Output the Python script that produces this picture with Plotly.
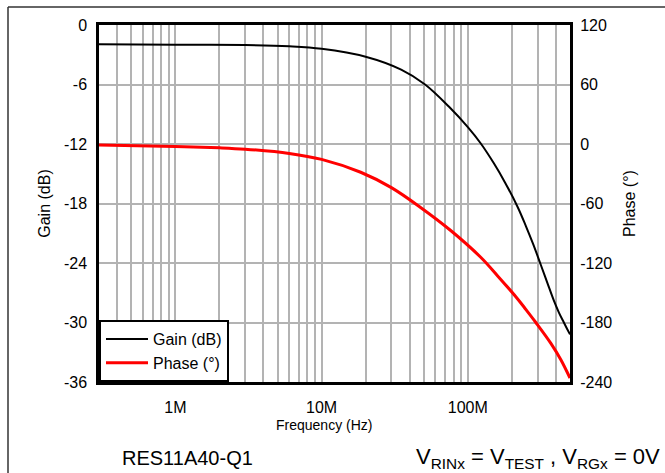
import plotly.graph_objects as go

# Data
gain_freq = [3e5, 1e6, 3e6, 6e6, 1e7, 2e7, 3.5e7, 5.1e7, 7.5e7, 1e8, 1.22e8, 1.5e8, 1.8e8,
             2.2e8, 2.5e8, 2.8e8, 3.16e8, 3.5e8, 3.88e8, 4.2e8, 4.54e8, 4.8e8, 5e8]
gain_db = [-1.95, -2.0, -2.02, -2.15, -2.4, -3.2, -4.5, -6.0, -8.3, -10.3, -11.9, -13.9, -15.9,
           -18.4, -20.3, -22.1, -24.2, -26.0, -27.8, -29.0, -30.0, -30.7, -31.2]

phase_freq = [3e5, 1e6, 2e6, 3e6, 6e6, 1e7, 1.85e7, 3e7, 4.75e7, 7.6e7, 1.22e8, 1.6e8,
              2.13e8, 2.5e8, 2.92e8, 3.7e8, 4.33e8, 5e8]
phase_deg = [-1.0, -2.4, -3.8, -5.2, -9.5, -15.5, -28.5, -44, -64, -87, -114, -133,
             -154, -167, -180, -201, -217.5, -236]

x_major = [1e6, 1e7, 1e8]
x_major_labels = ["1M", "10M", "100M"]
gain_ticks = [0, -6, -12, -18, -24, -30, -36]
gain_labels = ["0", "-6", "-12", "-18", "-24", "-30", "-36"]
phase_ticks = [120, 60, 0, -60, -120, -180, -240]
phase_labels = ["120", "60", "0", "-60", "-120", "-180", "-240"]

# gridline positions (all decade digits within range)
grid_vals = []
for dec in [1e5, 1e6, 1e7, 1e8]:
    for d in range(1, 10):
        v = d * dec
        if 3e5 <= v <= 5e8:
            grid_vals.append(v)
grid_text = [x_major_labels[x_major.index(v)] if v in x_major else "" for v in grid_vals]

FONT = "Arial, Liberation Sans, sans-serif"
W, H = 665, 473
L, R, T, B = 99, 95, 25, 91
pw, ph = W - L - R, H - T - B

fig = go.Figure()
fig.add_trace(go.Scatter(x=gain_freq, y=gain_db, mode="lines", name="Gain (dB)",
                         line=dict(color="black", width=2, shape="spline", smoothing=1.0)))
fig.add_trace(go.Scatter(x=phase_freq, y=phase_deg, mode="lines", name="Phase (°)", yaxis="y2",
                         line=dict(color="#ff0000", width=3, shape="spline", smoothing=1.0)))

def px_x(p):
    return (p - L) / pw

def px_y(p):
    return (H - B - p) / ph

shapes = [
    dict(type="line", xref="paper", yref="paper", x0=px_x(8), x1=px_x(665), y0=px_y(7), y1=px_y(7),
         line=dict(color="#333333", width=1.5)),
    dict(type="line", xref="paper", yref="paper", x0=px_x(8), x1=px_x(8), y0=px_y(7), y1=px_y(473),
         line=dict(color="#333333", width=1.5)),
]

NOTICK = "rgba(0,0,0,0)"

fig.update_layout(
    width=W, height=H,
    margin=dict(l=L, r=R, t=T, b=B),
    paper_bgcolor="white", plot_bgcolor="white",
    font=dict(family=FONT, size=14, color="black"),
    showlegend=True,
    legend=dict(x=0, y=0, xanchor="left", yanchor="bottom", bgcolor="white",
                bordercolor="black", borderwidth=2, font=dict(size=16, family=FONT),
                tracegroupgap=0, itemwidth=42),
    xaxis=dict(type="log", range=[5.4771, 8.699], tickvals=grid_vals, ticktext=grid_text,
               showgrid=True, gridcolor="#b3b3b3", gridwidth=2,
               ticks="outside", ticklen=9, tickcolor=NOTICK,
               showline=True, linecolor="black", linewidth=2.5, mirror=True,
               tickfont=dict(size=16), zeroline=False),
    yaxis=dict(range=[-36, 0], tickvals=gain_ticks, ticktext=gain_labels,
               showgrid=True, gridcolor="#b3b3b3", gridwidth=2,
               ticks="outside", ticklen=6, tickcolor=NOTICK,
               showline=True, linecolor="black", linewidth=2.5, mirror=True,
               title=dict(text="Gain (dB)", font=dict(size=16), standoff=10),
               tickfont=dict(size=16), zeroline=False),
    yaxis2=dict(range=[-240, 120], tickvals=phase_ticks, ticktext=phase_labels,
                overlaying="y", side="right",
                showgrid=False, ticks="outside", ticklen=6, tickcolor=NOTICK, zeroline=False,
                title=dict(text="Phase (°)", font=dict(size=16), standoff=12),
                tickfont=dict(size=16)),
    shapes=shapes,
    annotations=[
        dict(text="Frequency (Hz)", xref="paper", yref="paper", x=px_x(324), y=px_y(425),
             showarrow=False, font=dict(size=14, family=FONT), xanchor="center", yanchor="middle"),
        dict(text="RES11A40-Q1", xref="paper", yref="paper", x=px_x(187), y=px_y(458),
             showarrow=False, font=dict(size=20, family=FONT), xanchor="center", yanchor="middle"),
        dict(text="V<sub>RINx</sub> = V<sub>TEST</sub> , V<sub>RGx</sub> = 0V", xref="paper", yref="paper",
             x=px_x(538), y=px_y(458), showarrow=False, font=dict(size=22, family=FONT),
             xanchor="center", yanchor="middle"),
    ],
)

fig.write_html("out.html", config={"displayModeBar": False},
               post_script="document.body.style.margin='0';")
